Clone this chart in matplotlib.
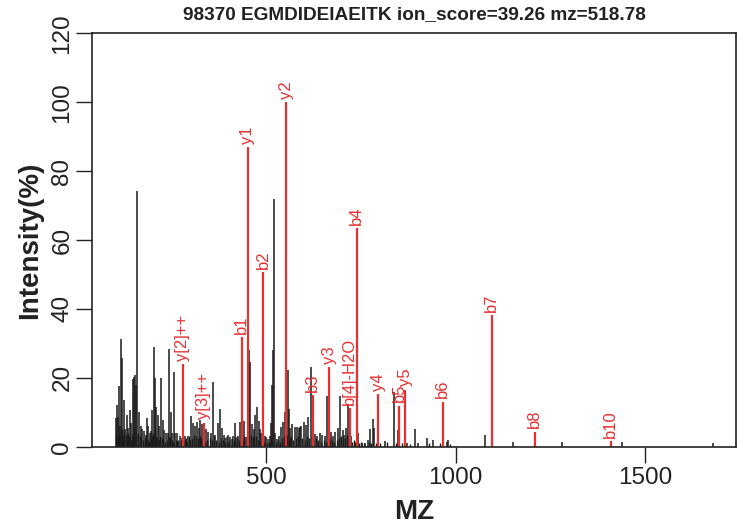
import matplotlib
matplotlib.use("Agg")
import matplotlib.pyplot as plt

# ---- data ----
title_text = "98370 EGMDIDEIAEITK ion_score=39.26 mz=518.78"

# unmatched (black) peaks: m/z and relative intensity (%)
noise_mz = [104, 107, 110, 113, 115, 118.7, 121, 125, 128, 133, 137, 142, 145, 148, 151, 155,
            158, 160, 164.5, 169, 174, 179, 183, 186, 190, 193, 196, 200.5, 204, 207.6, 211,
            214.7, 219, 222.6, 227, 232, 236.7, 241, 244.6, 250, 253, 257, 260, 266, 272, 279,
            287, 294, 302, 307, 313, 318, 323, 327, 331, 342, 348, 355, 360, 366, 372, 377.5,
            383, 388, 393, 397, 401, 405.7, 409, 413, 417, 421.5, 426, 431, 441, 446, 454,
            456.7, 463, 467, 471.7, 476, 480.5, 485, 488, 496, 499, 505, 509.6, 514, 516.7,
            518, 520, 523.7, 529, 534, 539.6, 545, 549, 557, 560, 564, 569.5, 575.5, 582, 588,
            590, 593, 599, 604.6, 610, 617.8, 628, 634.7, 641.6, 648.7, 655, 662, 672.5, 677,
            683, 689, 696, 702, 706, 711, 716.6, 724, 742, 753.6, 762, 768, 775.5, 780.8, 785,
            812.5, 837, 847.6, 872, 892.5, 901.5, 923.4, 940, 967, 976.5, 980, 1077, 1097,
            1152, 1280, 1437.7, 1679]
noise_int = [8.2, 12, 8.7, 17.6, 6, 31.2, 25.7, 13.6, 5, 9.2, 5.5, 10.6, 7, 19.6, 20.2, 20.8,
             17.8, 74.3, 10, 6, 5, 4.5, 3.5, 8.2, 6, 4, 4.5, 10.6, 29, 20, 11.6,
             9.2, 6, 20, 7.7, 4.8, 4, 4, 28.3, 10, 4, 21.8, 4, 4, 3, 2.5,
             3.2, 3, 9, 7, 6, 7.3, 5.4, 7.7, 6.5, 5, 4.4, 4, 18.9, 3.3, 7, 10.8,
             5.5, 3.5, 2.5, 2.7, 3.5, 2.7, 2.2, 3, 7, 2.7, 3, 7.2, 7.6, 2.7, 28,
             24.7, 6.5, 5, 9.3, 11.4, 7.6, 5, 4, 3, 2.7, 2.2, 3, 7, 17.9,
             28, 71.8, 4, 2.2, 3, 5.8, 7.2, 10, 22.3, 11, 5.3, 6.5, 5.8, 5.8, 5.3,
             5.8, 6, 7.2, 6.3, 8.5, 23.2, 3.7, 3, 4, 3.3, 3, 14.7, 4.4, 3,
             4.4, 5.4, 14.7, 4.8, 3.5, 5.4, 12.5, 3, 4, 1, 1, 2, 5, 8, 5.4,
             1.6, 16, 4.8, 1, 5, 1.2, 2.6, 2, 4.8, 1.3, 2, 3.4, 25,
             1.3, 1.3, 1.4, 1.0]

# small baseline (black) peaks filling the dense low-m/z region
base_mz = [105.5, 108.5, 111.5, 116.5, 119.8, 123, 126.5, 130, 131.5, 135, 139.5, 143.5,
           146.5, 149.5, 153, 156.5, 162, 166.5, 171.5, 176.5, 181, 184.5, 188, 191.5,
           195, 198, 202, 206, 209.5, 213, 217, 221, 225, 229.5, 234, 239, 243, 247.5,
           251.5, 255, 262.5, 264, 269, 275, 277, 282, 285, 290, 292, 297, 300, 305, 310,
           316, 320, 325, 329, 334, 338, 345, 351, 358, 363, 369, 375, 380, 386, 391, 399,
           403, 411, 415, 419, 424, 428, 433, 438, 443, 449, 451, 460, 465, 469, 474, 478,
           483, 491, 494, 502, 507, 512, 526, 531, 537, 542, 547, 551, 555, 562, 567, 572,
           578, 585, 596, 602, 607, 613, 620, 625, 631, 638, 645, 652, 659, 665, 670, 675,
           680, 686, 692, 699, 704, 709, 714, 719, 727, 731, 735, 746, 750, 758, 771, 778,
           790, 801, 819, 843, 858, 880, 931, 960, 985]
base_int = [3, 2.5, 4, 3.5, 5, 3, 4.5, 3.5, 2.5, 4, 3, 2, 3.5, 4, 5.5, 3, 4, 3, 2.5, 2, 2.5,
            3, 2, 1.5, 2.5, 3, 4, 5.5, 3, 2.5, 2, 3, 2.5, 2, 1.5, 2, 3, 2.5, 2, 1.5, 2, 1.5,
            2, 1.5, 2, 1.5, 2, 2.5, 1.5, 3, 2, 2.5, 3.5, 3, 2.5, 3, 2.5, 2, 1.5, 2, 2.5, 2,
            3, 2, 1.5, 2.5, 2, 1.5, 1.2, 2, 1.5, 2, 1.5, 2.5, 2, 1.5, 2, 3, 2, 2.5, 3.5, 3,
            2.5, 3, 2, 1.5, 2, 1.5, 1.2, 1.5, 2, 1.5, 2, 1.5, 2.5, 3, 2, 3.5, 2.5, 3, 2, 2.5,
            3, 2.5, 2, 3, 2.5, 3, 2, 2.5, 2, 1.5, 2, 1.5, 2, 2.5, 2, 1.5, 2, 2.5, 3, 2, 2.5,
            3.5, 2, 1.5, 2, 1.5, 1, 1.5, 1, 1.5, 1.2, 1, 1.2, 1.5, 1, 1, 0.8, 1, 1, 0.8]

# matched (red) fragment ions
ion_labels = ["y[2]++", "y[3]++", "b1", "y1", "b2", "y2", "b3", "y3", "b[4]-H2O", "b4",
              "y4", "b5", "y5", "b6", "b7", "b8", "b10"]
ion_mz = [279.7, 335.5, 435.6, 452.4, 493, 553.3, 623, 667, 721, 739,
          796, 851, 867, 966.5, 1095, 1208.5, 1408.6]
ion_int = [23.9, 6.9, 31.8, 87, 50.6, 100, 15, 23, 11.1, 63.4,
           15.2, 11.9, 16.5, 13.1, 38.2, 4.4, 1.6]

x_ticks = [500, 1000, 1500]
y_ticks = [0, 20, 40, 60, 80, 100, 120]

# ---- figure ----
plt.rcParams['font.family'] = ['Liberation Sans', 'DejaVu Sans']
W, H = 746, 530
fig = plt.figure(figsize=(W / 100, H / 100), dpi=100)
L, R, T, B = 92, 736, 33.3, 446.7
ax = fig.add_axes([L / W, 1 - B / H, (R - L) / W, (B - T) / H])

ink = '#1a1a1a'
ax.vlines(base_mz, 0, base_int, colors=ink, linewidth=1.0)
ax.vlines(noise_mz, 0, noise_int, colors=ink, linewidth=1.1)
red = '#E8302F'
ax.vlines(ion_mz, 0, ion_int, colors=red, linewidth=1.6)
for lab, mz, it in zip(ion_labels, ion_mz, ion_int):
    ax.text(mz, it + 1.0, lab, rotation=90, ha='center', va='bottom',
            color=red, fontsize=12)

ax.set_xlim(41, 1739.5)
ax.set_ylim(0, 120)
ax.set_xticks(x_ticks)
ax.set_yticks(y_ticks)
ax.set_xticklabels([str(v) for v in x_ticks])
ax.set_yticklabels([str(v) for v in y_ticks], rotation=90, va='center')
ax.tick_params(axis='both', direction='out', length=11.5, width=1.0, colors='#222222',
               labelsize=17.5, labelcolor='#222222')
ax.tick_params(axis='x', pad=3)
ax.tick_params(axis='y', pad=2)
for s in ax.spines.values():
    s.set_linewidth(1.2)
    s.set_color('#222222')

fig.text((L + R) / 2 / W, 1 - 15 / H, title_text, ha='center', va='center',
         fontsize=13.7, fontweight='bold', color='#222222')
fig.text((L + R) / 2 / W, 1 - 512 / H, "MZ", ha='center', va='center',
         fontsize=20, fontweight='bold', color='#222222')
fig.text(30 / W, 1 - 240 / H, "Intensity(%)", ha='center', va='center', rotation=90,
         fontsize=20, fontweight='bold', color='#222222')

fig.savefig("out.png", dpi=100)
